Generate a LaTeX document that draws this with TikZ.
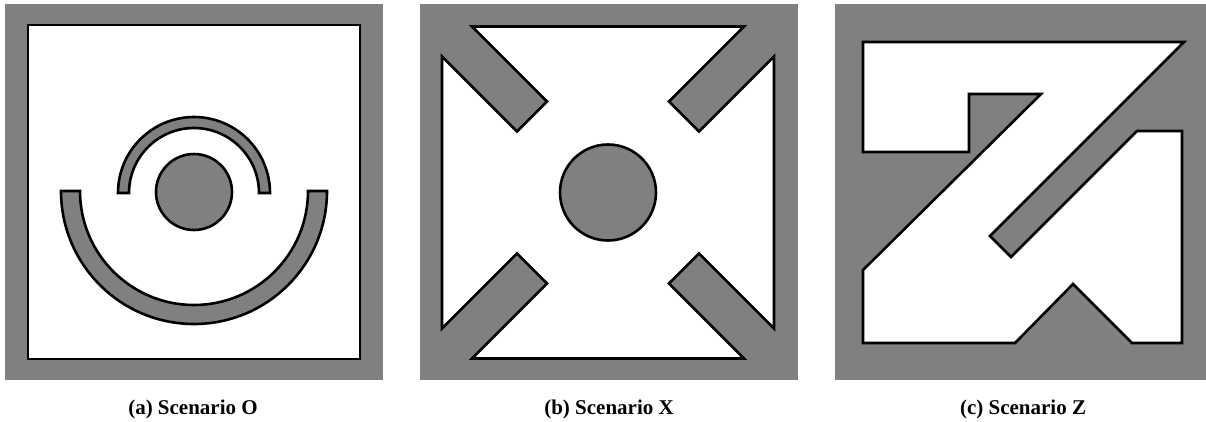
\documentclass[tikz,border=0pt]{standalone}
\usepackage{fontspec}
\setmainfont{Liberation Serif}
\usetikzlibrary{positioning}
\definecolor{ink}{HTML}{000000}
\definecolor{wallGrey}{HTML}{808080}
\tikzset{
  wall/.style={fill=wallGrey,draw=none},
  freeArea/.style={fill=white,draw=ink,line width=2.6pt},
  obst/.style={fill=wallGrey,draw=ink,line width=2.6pt},
  subcap/.style={font=\fontsize{21}{25}\selectfont\bfseries,text=ink,anchor=base,inner sep=0pt}}
\begin{document}
\begin{tikzpicture}[x=1pt,y=-1pt]
\useasboundingbox (0,0) rectangle (1206,421);
\fill[wall] (5,4) rectangle (383,380);
\fill[wall] (420,4) rectangle (798,380);
\fill[wall] (835,4) rectangle (1206,380);
\draw[freeArea] (28,25) rectangle (360,359);
\draw[obst] (194,192) circle[radius=38];
\draw[obst] (118,193) arc[start angle=180,end angle=360,radius=76] -- (259,193)
  arc[start angle=360,end angle=180,radius=65] -- cycle;
\draw[obst] (61,191) arc[start angle=180,end angle=0,radius=133] -- (308,191)
  arc[start angle=0,end angle=180,radius=114] -- cycle;
\begin{scope}[shift={(608,192.5)}]
\draw[freeArea] (-136,-166) -- (-61,-91) -- (-91,-61) -- (-166,-136) -- (-166,136) -- (-91,61)
  -- (-61,91) -- (-136,166) -- (136,166) -- (61,91) -- (91,61) -- (166,136) -- (166,-136)
  -- (91,-61) -- (61,-91) -- (136,-166) -- cycle;
\draw[obst] (0,0) circle[radius=48];
\end{scope}
\draw[freeArea] (863,42) -- (1184,42) -- (990,236) -- (1011,257) -- (1137,131) -- (1182,131)
  -- (1182,343) -- (1132,343) -- (1073,284) -- (1015,343) -- (863,343) -- (863,270)
  -- (1041,94) -- (969,94) -- (969,152) -- (863,152) -- cycle;
\node[subcap] (capO) at (193,414) {(a) Scenario O};
\node[subcap] (capX) at (609,414) {(b) Scenario X};
\node[subcap] (capZ) at (1023,414) {(c) Scenario Z};
\end{tikzpicture}
\end{document}
